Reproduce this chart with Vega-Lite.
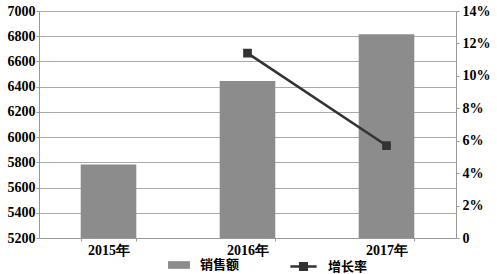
{
  "$schema": "https://vega.github.io/schema/vega-lite/v6.json",
  "width": 417,
  "height": 227,
  "padding": {"left": 7, "top": 4, "right": 0, "bottom": 0},
  "autosize": {"type": "pad"},
  "background": "white",
  "config": {
    "view": {"stroke": null},
    "font": "Liberation Serif",
    "axis": {"labelFont": "Liberation Serif", "labelFontWeight": "bold", "labelFontSize": 14, "labelColor": "#000", "tickSize": 3, "labelPadding": 1},
    "legend": {"labelFont": "Noto Sans CJK SC", "labelFontSize": 13, "labelFontWeight": "bold", "labelColor": "#000"}
  },
  "data": {"values": [
    {"year": "2015年", "sales": 5782, "growth": null},
    {"year": "2016年", "sales": 6445, "growth": 0.114},
    {"year": "2017年", "sales": 6815, "growth": 0.057}
  ]},
  "encoding": {
    "x": {"field": "year", "type": "nominal", "title": null,
      "scale": {"paddingInner": 0.6, "paddingOuter": 0.3},
      "axis": {"labelAngle": 0, "tickBand": "extent", "domainColor": "#999", "tickColor": "#999", "labelPadding": 2}}
  },
  "layer": [
    {
      "mark": {"type": "bar", "color": "#8c8c8c"},
      "encoding": {
        "y": {"field": "sales", "type": "quantitative", "title": null,
          "scale": {"domain": [5200, 7000]},
          "axis": {"values": [5200,5400,5600,5800,6000,6200,6400,6600,6800,7000], "format": "d", "gridColor": "#aaa", "domainColor": "#999", "tickColor": "#999"}},
        "y2": {"datum": 5200},
        "fill": {"datum": "销售额", "type": "nominal", "scale": {"range": ["#8c8c8c"]},
          "legend": {"orient": "none", "legendX": 129, "legendY": 243, "title": null, "symbolType": "M-1,-0.35H1V0.35H-1Z", "symbolSize": 480, "symbolStrokeWidth": 0, "labelOffset": 10}}
      }
    },
    {
      "mark": {"type": "line", "point": {"shape": "square", "size": 45, "filled": true, "color": "#333"}, "strokeWidth": 2.5, "color": "#333"},
      "transform": [{"filter": "datum.growth != null"}],
      "encoding": {
        "y": {"field": "growth", "type": "quantitative", "title": null,
          "scale": {"domain": [0, 0.14]},
          "axis": {"orient": "right", "values": [0,0.02,0.04,0.06,0.08,0.1,0.12,0.14], "labelExpr": "datum.value == 0 ? '0' : format(datum.value, '.0%')", "grid": false, "domainColor": "#999", "tickColor": "#999", "labelPadding": 3}},
        "stroke": {"datum": "增长率", "type": "nominal", "scale": {"range": ["#333"]},
          "legend": {"orient": "none", "legendX": 252, "legendY": 243, "title": null, "symbolType": "M-1.2,0H1.2M-0.3,-0.3H0.3V0.3H-0.3Z", "symbolSize": 480, "symbolStrokeWidth": 2.5, "symbolFillColor": "#333", "symbolStrokeColor": "#333", "labelOffset": 12}}
      }
    }
  ],
  "resolve": {"scale": {"y": "independent", "fill": "independent", "stroke": "independent"}}
}
